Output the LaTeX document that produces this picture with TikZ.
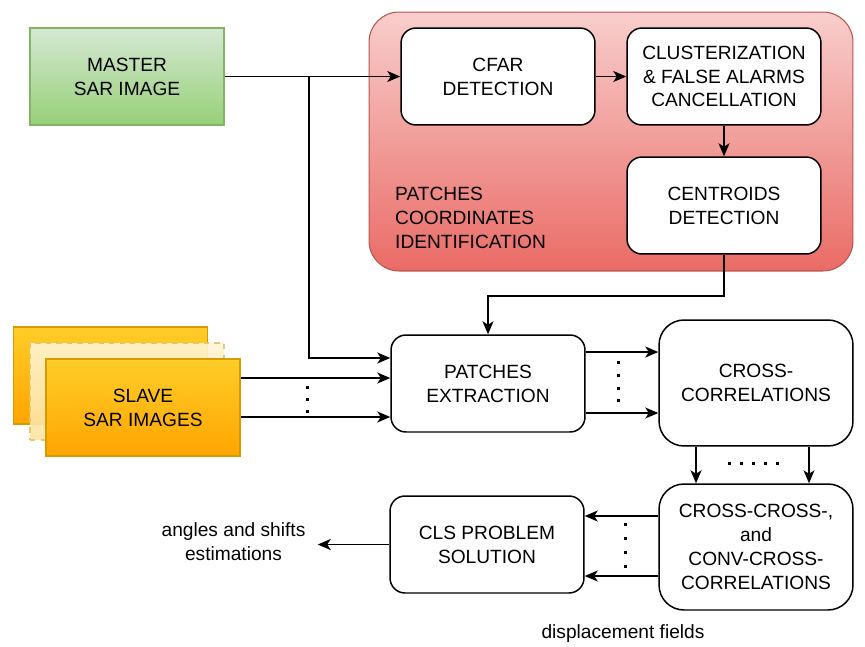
\documentclass[tikz,border=0pt]{standalone}
\usepackage{fontspec}
\setmainfont{Liberation Sans}
\usetikzlibrary{arrows.meta}
\definecolor{greentop}{HTML}{D5E8D4}
\definecolor{greenbot}{HTML}{97D077}
\definecolor{greenline}{HTML}{82B366}
\definecolor{redtop}{HTML}{F8CECC}
\definecolor{redbot}{HTML}{EA6B66}
\definecolor{redline}{HTML}{B85450}
\definecolor{orangetop}{HTML}{FFCD28}
\definecolor{orangebot}{HTML}{FFA500}
\definecolor{orangeline}{HTML}{D79B00}
\definecolor{paletop}{HTML}{FFF4D4}
\definecolor{palebot}{HTML}{FDE3A0}
\tikzset{
  txt/.style={font=\fontsize{10.9}{13.6}\selectfont,align=center},
  block/.style={txt,draw=black,fill=white,line width=0.85pt,rounded corners=0.3cm,
    minimum width=3.88cm,minimum height=1.94cm,inner sep=0pt},
  bigblock/.style={block,rounded corners=0.5cm,minimum height=2.52cm},
  image/.style={txt,line width=0.6pt,minimum width=3.88cm,minimum height=1.94cm,inner sep=0pt},
  flow/.style={line width=0.9pt,-{Stealth[length=0.26cm,width=0.22cm,inset=0.07cm]}},
}
\begin{document}
\begin{tikzpicture}[x=0.02cm,y=-0.02cm]
\useasboundingbox (0,0) rectangle (865,646);
% the identification group
\node[txt,draw=redline,line width=0.6pt,top color=redtop,bottom color=redbot,rounded corners=0.6cm,
  minimum width=9.68cm,minimum height=5.18cm] (group) at (611,141.5) {};
\node[txt,align=left,anchor=west] (grouplabel) at (389,218) {PATCHES\\COORDINATES\\IDENTIFICATION};
\node[block] (cfar) at (498,76.5) {CFAR\\DETECTION};
\node[block] (clust) at (724,76.5) {CLUSTERIZATION\\\& FALSE ALARMS\\CANCELLATION};
\node[block] (centr) at (724,205.5) {CENTROIDS\\DETECTION};
% the images
\node[image,draw=greenline,top color=greentop,bottom color=greenbot] (master) at (127,76.5) {MASTER\\SAR IMAGE};
\node[image,draw=orangeline,top color=orangetop,bottom color=orangebot] (slaveback) at (110.5,375.5) {};
\node[image,draw=orangeline!60,dashed,top color=paletop,bottom color=palebot,opacity=0.9] (slavemid) at (127,391.5) {};
\node[image,draw=orangeline,top color=orangetop,bottom color=orangebot] (slave) at (143,407.5) {SLAVE\\SAR IMAGES};
% the processing chain
\node[block] (patches) at (488,383.5) {PATCHES\\EXTRACTION};
\node[bigblock] (cross) at (756,383) {CROSS-\\CORRELATIONS};
\node[bigblock] (ccross) at (756,547) {CROSS-CROSS-,\\and\\CONV-CROSS-\\CORRELATIONS};
\node[block] (cls) at (487,544.5) {CLS PROBLEM\\SOLUTION};
\node[txt,inner xsep=0.24cm] (out) at (233.5,541.5) {angles and shifts\\estimations};
\node[txt] (disp) at (623,634) {displacement fields};
% connectors
\coordinate (split) at (309,76.5);
\draw[flow] (master.east) -- (cfar.west);
\draw[flow] (split) |- ([yshift=0.51cm]patches.west);
\draw[flow] (cfar.east) -- (clust.west);
\draw[flow] (clust.south) -- (centr.south |- centr.north);
\draw[flow] (centr.south) -- ++(0,41) -| (patches.north);
\draw[flow] ([yshift=0.59cm]slave.east) coordinate (s1) -- (s1 -| patches.west);
\draw[flow] ([yshift=-0.19cm]slave.east) coordinate (s2) -- (s2 -| patches.west);
\draw[flow] ([yshift=0.63cm]patches.east) coordinate (p1) -- (p1 -| cross.west);
\draw[flow] ([yshift=-0.59cm]patches.east) coordinate (p2) -- (p2 -| cross.west);
\draw[flow] ([xshift=-1.2cm]cross.south) coordinate (c1) -- (c1 |- ccross.north);
\draw[flow] ([xshift=1.06cm]cross.south) coordinate (c2) -- (c2 |- ccross.north);
\draw[flow] ([yshift=0.62cm]ccross.west) coordinate (k1) -- (k1 -| cls.east);
\draw[flow] ([yshift=-0.58cm]ccross.west) coordinate (k2) -- (k2 -| cls.east);
\draw[flow] (cls.west) -- (cls.west -| out.east);
% the dots
\foreach \y in {387,399,411} \fill (305.5,\y-1.5) rectangle ++(3,3);
\foreach \y in {362,375,388,400} \fill (616.5,\y-1.5) rectangle ++(3,3);
\foreach \x in {729,741,753,765,777} \fill (\x-1.5,461.5) rectangle ++(3,3);
\foreach \y in {524,538,552,566} \fill (623.5,\y-1.5) rectangle ++(3,3);
\end{tikzpicture}
\end{document}
